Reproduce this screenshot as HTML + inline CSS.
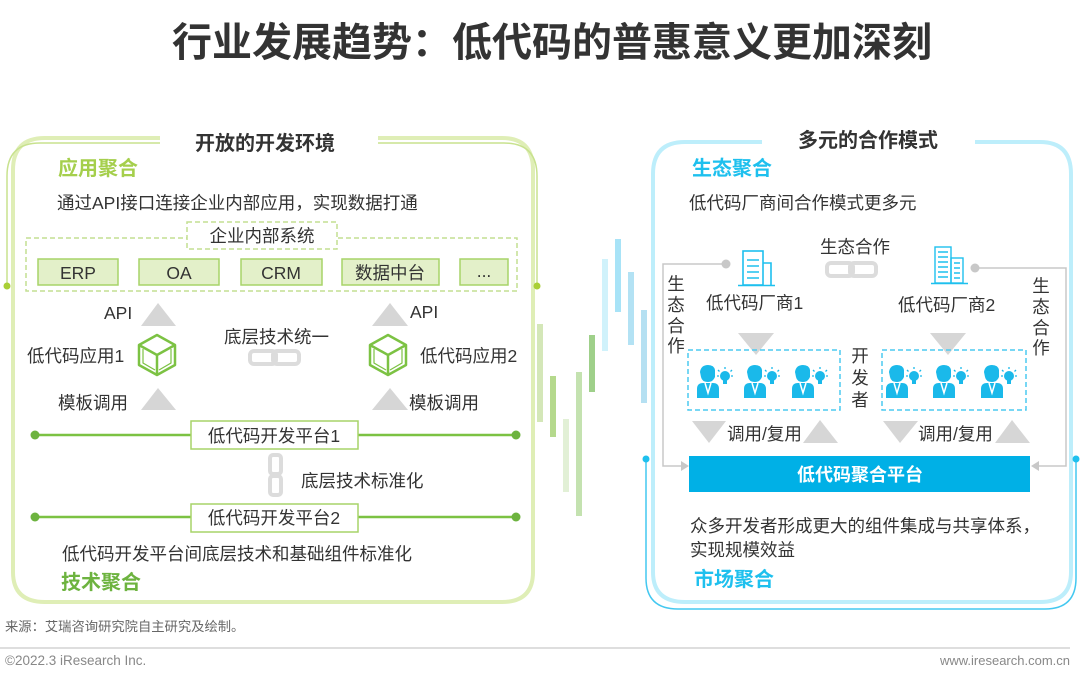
<!DOCTYPE html>
<html><head><meta charset="utf-8">
<style>
html,body{margin:0;padding:0;background:#fff;}
svg{display:block;}
text{font-family:"Liberation Sans","Noto Sans CJK SC",sans-serif;}
</style></head>
<body>
<svg width="1080" height="679" viewBox="0 0 1080 679" xmlns="http://www.w3.org/2000/svg">
<defs>
<g id="person">
  <path d="M3,7 Q4,0 11,0 Q17,0 18,5 L18,12 Q16,17 11,17 Q5,17 4,12 Z" fill="#1ab9ea"/>
  <path d="M0,33 L0,24 Q0,18 6,18 L16,18 Q22,18 22,24 L22,33 Z" fill="#1ab9ea"/>
  <path d="M8,18 L11,28 L14,18" fill="none" stroke="#fff" stroke-width="1.5"/>
  <circle cx="28" cy="11" r="5" fill="#1ab9ea"/>
  <rect x="26" y="15" width="4" height="4" fill="#1ab9ea"/>
  <path d="M28,2 L28,4 M21,5 L22.5,6.5 M35,5 L33.5,6.5 M20,11 L22,11 M36,11 L34,11" stroke="#1ab9ea" stroke-width="1.3"/>
</g>
<g id="cube">
  <path d="M18,0 L36,10 L36,30 L18,40 L0,30 L0,10 Z M0,10 L18,20 L36,10 M18,20 L18,40" fill="none" stroke="#7cc243" stroke-width="2.5" stroke-linejoin="round"/>
  <path d="M4,14 L4,28 L16,35 M32,14 L32,28 L20,35" fill="none" stroke="#7cc243" stroke-width="1.2"/>
</g>
<g id="chainh">
  <rect x="2" y="2" width="26" height="13" rx="4" fill="none" stroke="#dcdcdc" stroke-width="4"/>
  <rect x="25" y="2" width="26" height="13" rx="4" fill="none" stroke="#dcdcdc" stroke-width="4"/>
</g>
</defs>

<!-- Title -->
<text x="552" y="56" text-anchor="middle" font-size="40" font-weight="bold" fill="#333">行业发展趋势：低代码的普惠意义更加深刻</text>

<!-- Left box frames -->
<path d="M160,138 L45,138 Q13,138 13,170 L13,572 Q13,602 45,602 L502,602 Q533,602 533,572 L533,170 Q533,138 502,138 L378,138" fill="none" stroke="#dfeeb6" stroke-width="4"/>
<path d="M160,143 L40,143 Q7,143 7,176 L7,286 M378,143 L504,143 Q537,143 537,176 L537,286" fill="none" stroke="#c8e28e" stroke-width="1.5"/>
<circle cx="7" cy="286" r="3.5" fill="#a9cf35"/>
<circle cx="537" cy="286" r="3.5" fill="#a9cf35"/>

<!-- Right box frames -->
<path d="M762,142 L685,142 Q653,142 653,174 L653,572 Q653,602 685,602 L1040,602 Q1071,602 1071,572 L1071,174 Q1071,142 1040,142 L975,142" fill="none" stroke="#bdeefb" stroke-width="4"/>
<path d="M646,459 L646,578 Q646,609 678,609 L1045,609 Q1076,609 1076,578 L1076,459" fill="none" stroke="#44c8f0" stroke-width="1.5"/>
<circle cx="646" cy="459" r="3.5" fill="#1ec0ee"/>
<circle cx="1076" cy="459" r="3.5" fill="#1ec0ee"/>

<!-- middle decorative bars -->
<rect x="537" y="324" width="6" height="98" fill="#d4e7b8"/>
<rect x="550" y="376" width="6" height="61" fill="#b5d98d"/>
<rect x="563" y="419" width="6" height="73" fill="#e2f0d6"/>
<rect x="576" y="372" width="6" height="144" fill="#c4e2b0"/>
<rect x="589" y="335" width="6" height="57" fill="#9fd08a"/>
<rect x="602" y="259" width="6" height="92" fill="#d0f2fb"/>
<rect x="615" y="239" width="6" height="73" fill="#a8e3f7"/>
<rect x="628" y="272" width="6" height="73" fill="#b3e2f4"/>
<rect x="641" y="310" width="6" height="93" fill="#b5e0f2"/>

<!-- LEFT content -->
<text x="265" y="150" text-anchor="middle" font-size="20" font-weight="bold" fill="#333">开放的开发环境</text>
<text x="58" y="175" font-size="20" font-weight="bold" fill="#a5cf4c">应用聚合</text>
<text x="57" y="209" font-size="17.5" fill="#333">通过API接口连接企业内部应用，实现数据打通</text>

<rect x="26" y="238" width="491" height="53" fill="none" stroke="#c3df92" stroke-width="1.5" stroke-dasharray="5,3"/>
<rect x="187" y="222" width="150" height="27" fill="#fff" stroke="#c3df92" stroke-width="1.5" stroke-dasharray="5,3"/>
<text x="262" y="242" text-anchor="middle" font-size="17.5" fill="#333">企业内部系统</text>

<g font-size="17.5" fill="#333" text-anchor="middle">
<rect x="38" y="259" width="80" height="26" fill="#e3f0c9" stroke="#a7d468" stroke-width="1.5"/><text x="78" y="279">ERP</text>
<rect x="139" y="259" width="80" height="26" fill="#e3f0c9" stroke="#a7d468" stroke-width="1.5"/><text x="179" y="279">OA</text>
<rect x="241" y="259" width="81" height="26" fill="#e3f0c9" stroke="#a7d468" stroke-width="1.5"/><text x="281" y="279">CRM</text>
<rect x="342" y="259" width="97" height="26" fill="#e3f0c9" stroke="#a7d468" stroke-width="1.5"/><text x="390" y="279">数据中台</text>
<rect x="460" y="259" width="48" height="26" fill="#e3f0c9" stroke="#a7d468" stroke-width="1.5"/><text x="484" y="277">...</text>
</g>

<g fill="#d6d6d6">
<polygon points="141,326 158,303 176,326"/>
<polygon points="372,326 390,303 408,326"/>
<polygon points="141,410 158,388 176,410"/>
<polygon points="372,410 390,388 408,410"/>
</g>
<g font-size="17.5" fill="#333">
<text x="104" y="319">API</text>
<text x="410" y="318">API</text>
<text x="27" y="362">低代码应用1</text>
<text x="420" y="362">低代码应用2</text>
<text x="224" y="343">底层技术统一</text>
<text x="58" y="409">模板调用</text>
<text x="409" y="409">模板调用</text>
</g>
<use href="#cube" x="139" y="335"/>
<use href="#cube" x="370" y="335"/>
<use href="#chainh" x="248" y="349"/>

<line x1="35" y1="435" x2="516" y2="435" stroke="#7cc243" stroke-width="2.5"/>
<circle cx="35" cy="435" r="4.5" fill="#6db33f"/><circle cx="516" cy="435" r="4.5" fill="#6db33f"/>
<rect x="191" y="421" width="167" height="28" fill="#fff" stroke="#a7d468" stroke-width="1.5"/>
<text x="274" y="442" text-anchor="middle" font-size="17.5" fill="#333">低代码开发平台1</text>

<rect x="270" y="455" width="11" height="19" rx="3" fill="none" stroke="#dcdcdc" stroke-width="4"/>
<rect x="270" y="476" width="11" height="19" rx="3" fill="none" stroke="#dcdcdc" stroke-width="4"/>
<text x="301" y="487" font-size="17.5" fill="#333">底层技术标准化</text>

<line x1="35" y1="517" x2="516" y2="517" stroke="#7cc243" stroke-width="2.5"/>
<circle cx="35" cy="517" r="4.5" fill="#6db33f"/><circle cx="516" cy="517" r="4.5" fill="#6db33f"/>
<rect x="191" y="504" width="167" height="28" fill="#fff" stroke="#a7d468" stroke-width="1.5"/>
<text x="274" y="524" text-anchor="middle" font-size="17.5" fill="#333">低代码开发平台2</text>

<text x="62" y="560" font-size="17.5" fill="#333">低代码开发平台间底层技术和基础组件标准化</text>
<text x="61" y="589" font-size="20" font-weight="bold" fill="#6db33f">技术聚合</text>

<!-- RIGHT content -->
<text x="868" y="147" text-anchor="middle" font-size="20" font-weight="bold" fill="#333">多元的合作模式</text>
<text x="692" y="175" font-size="20" font-weight="bold" fill="#1ec0ee">生态聚合</text>
<text x="689" y="209" font-size="17.5" fill="#333">低代码厂商间合作模式更多元</text>

<!-- side connectors -->
<path d="M726,264 L663,264 L663,466 L682,466" fill="none" stroke="#c8c8c8" stroke-width="1.5"/>
<polygon points="681,461 689,466 681,471" fill="#c8c8c8"/>
<circle cx="726" cy="264" r="4.5" fill="#c8c8c8"/>
<path d="M975,268 L1066,268 L1066,466 L1038,466" fill="none" stroke="#c8c8c8" stroke-width="1.5"/>
<polygon points="1039,461 1031,466 1039,471" fill="#c8c8c8"/>
<circle cx="975" cy="268" r="4.5" fill="#c8c8c8"/>
<g font-size="17.5" fill="#333" text-anchor="middle">
<text x="676" y="290">生</text><text x="676" y="311">态</text><text x="676" y="332">合</text><text x="676" y="352">作</text>
<text x="1041" y="292">生</text><text x="1041" y="313">态</text><text x="1041" y="334">合</text><text x="1041" y="354">作</text>
<text x="860" y="362">开</text><text x="860" y="384">发</text><text x="860" y="406">者</text>
</g>

<!-- building 1 -->
<g fill="none" stroke="#1ec0ee" stroke-width="1.6">
<rect x="743" y="251" width="20" height="34"/>
<path d="M763,263 L771,263 L771,285"/>
<path d="M738,285.5 L775,285.5"/>
<path d="M747,260 L759,260 M747,266 L759,266 M747,272 L759,272 M747,278 L759,278"/>
</g>
<!-- building 2 -->
<g fill="none" stroke="#1ec0ee" stroke-width="1.4">
<rect x="935" y="247" width="16" height="36"/>
<rect x="951" y="258" width="12" height="25"/>
<path d="M931,283.5 L968,283.5"/>
<path d="M938,252 L948,252 M938,257 L948,257 M938,262 L948,262 M938,267 L948,267 M938,272 L948,272 M938,277 L948,277 M954,263 L960,263 M954,268 L960,268 M954,273 L960,273 M954,278 L960,278"/>
</g>
<text x="855" y="253" text-anchor="middle" font-size="17.5" fill="#333">生态合作</text>
<use href="#chainh" x="825" y="261"/>
<text x="706" y="309" font-size="17.5" fill="#333">低代码厂商1</text>
<text x="898" y="311" font-size="17.5" fill="#333">低代码厂商2</text>
<polygon points="738,333 774,333 756,355" fill="#d6d6d6"/>
<polygon points="930,333 966,333 948,355" fill="#d6d6d6"/>

<rect x="688" y="350" width="152" height="60" fill="none" stroke="#4ccaf0" stroke-width="1.5" stroke-dasharray="5,3"/>
<rect x="882" y="350" width="144" height="60" fill="none" stroke="#4ccaf0" stroke-width="1.5" stroke-dasharray="5,3"/>
<use href="#person" x="697" y="365"/>
<use href="#person" x="744" y="365"/>
<use href="#person" x="792" y="365"/>
<use href="#person" x="886" y="365"/>
<use href="#person" x="933" y="365"/>
<use href="#person" x="981" y="365"/>

<g fill="#d6d6d6">
<polygon points="692,421 726,421 709,443"/>
<polygon points="803,443 820,420 838,443"/>
<polygon points="883,421 918,421 900,443"/>
<polygon points="995,443 1012,420 1030,443"/>
</g>
<text x="727" y="440" font-size="17.5" fill="#333">调用/复用</text>
<text x="918" y="440" font-size="17.5" fill="#333">调用/复用</text>

<rect x="689" y="456" width="341" height="36" fill="#00b0e6"/>
<text x="860" y="481" text-anchor="middle" font-size="18" font-weight="bold" fill="#fff">低代码聚合平台</text>

<text x="690" y="532" font-size="17.5" fill="#333">众多开发者形成更大的组件集成与共享体系，</text>
<text x="690" y="556" font-size="17.5" fill="#333">实现规模效益</text>
<text x="694" y="586" font-size="20" font-weight="bold" fill="#1ec0ee">市场聚合</text>

<!-- footer -->
<text x="5" y="631" font-size="13.3" fill="#666">来源：艾瑞咨询研究院自主研究及绘制。</text>
<line x1="0" y1="648" x2="1070" y2="648" stroke="#bdbdbd" stroke-width="1"/>
<text x="5" y="665" font-size="13.5" fill="#888">©2022.3 iResearch Inc.</text>
<text x="1070" y="665" text-anchor="end" font-size="13" fill="#888">www.iresearch.com.cn</text>
</svg>
</body></html>
